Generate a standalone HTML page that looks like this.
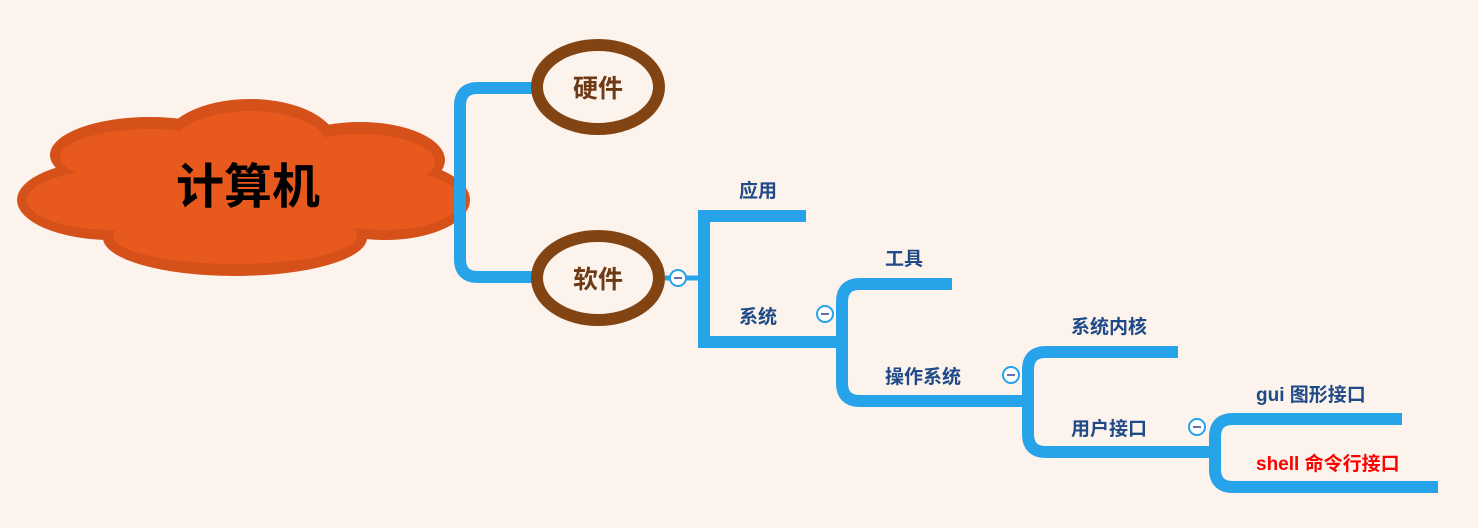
<!DOCTYPE html>
<html><head><meta charset="utf-8"><style>
html,body{margin:0;padding:0;background:#fbf3ec;}
svg{display:block}
text{font-family:"Liberation Sans","Noto Sans CJK SC",sans-serif;font-weight:bold;}
</style></head><body>
<svg width="1478" height="528" viewBox="0 0 1478 528" xmlns="http://www.w3.org/2000/svg">
<rect width="1478" height="528" fill="#fbf3ec"/>
<!-- cloud -->
<g fill="#d6501a">
<ellipse cx="250" cy="145" rx="88" ry="46"/>
<ellipse cx="150" cy="155" rx="100" ry="38"/>
<ellipse cx="360" cy="160" rx="85" ry="38"/>
<ellipse cx="112" cy="200" rx="95" ry="40"/>
<ellipse cx="385" cy="200" rx="85" ry="40"/>
<ellipse cx="235" cy="238" rx="132" ry="38"/>
<ellipse cx="250" cy="195" rx="170" ry="55"/>
</g>
<g fill="#e8591e">
<ellipse cx="250" cy="147" rx="78" ry="36"/>
<ellipse cx="150" cy="157" rx="90" ry="28"/>
<ellipse cx="360" cy="162" rx="75" ry="28"/>
<ellipse cx="112" cy="200" rx="85" ry="30"/>
<ellipse cx="385" cy="200" rx="75" ry="30"/>
<ellipse cx="235" cy="236" rx="122" ry="28"/>
<ellipse cx="250" cy="195" rx="160" ry="45"/>
</g>
<text x="248" y="203" font-size="48" text-anchor="middle" fill="#000">计算机</text>
<!-- connectors -->
<g fill="none" stroke="#27a3ea" stroke-width="12">
<path d="M540 88 H478 Q460 88 460 106 V259 Q460 277 478 277 H540"/>
<path d="M806 216 H704 V342 H842"/>
<path d="M952 284 H860 Q842 284 842 302 V383 Q842 401 860 401 H1028"/>
<path d="M1178 352 H1046 Q1028 352 1028 370 V434 Q1028 452 1046 452 H1214"/>
<path d="M1402 419 H1233 Q1215 419 1215 437 V469 Q1215 487 1233 487 H1438"/>
</g>
<path d="M665 278 H704" stroke="#27a3ea" stroke-width="5"/>
<!-- ellipses -->
<g fill="#fbf3ec" stroke="#834414" stroke-width="12">
<ellipse cx="598" cy="87" rx="61" ry="42"/>
<ellipse cx="598" cy="278" rx="61" ry="42"/>
</g>
<text x="598" y="97" font-size="25" text-anchor="middle" fill="#6e3a16">硬件</text>
<text x="598" y="288" font-size="25" text-anchor="middle" fill="#6e3a16">软件</text>
<!-- minus circles -->
<g fill="#fff" stroke="#27a3ea" stroke-width="2">
<circle cx="678" cy="278" r="8"/>
<circle cx="825" cy="314" r="8"/>
<circle cx="1011" cy="375" r="8"/>
<circle cx="1197" cy="427" r="8"/>
</g>
<g stroke="#6a6fa8" stroke-width="2">
<path d="M674 278 H682 M821 314 H829 M1007 375 H1015 M1193 427 H1201"/>
</g>
<g font-size="19" fill="#1f4a87">
<text x="739" y="197">应用</text>
<text x="739" y="323">系统</text>
<text x="885" y="265">工具</text>
<text x="885" y="383">操作系统</text>
<text x="1071" y="333">系统内核</text>
<text x="1071" y="435">用户接口</text>
<text x="1256" y="401">gui 图形接口</text>
</g>
<text x="1256" y="470" font-size="19" fill="#f00">shell 命令行接口</text>
</svg>
</body></html>
